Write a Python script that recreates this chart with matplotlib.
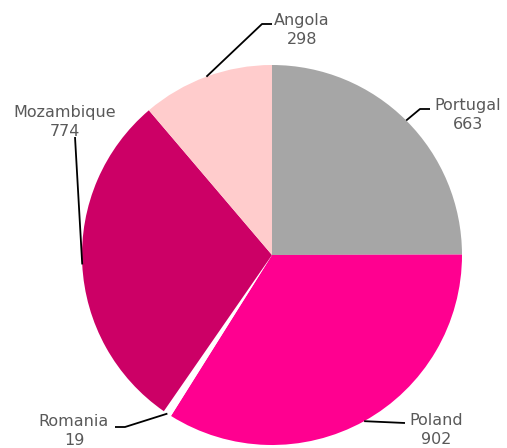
import matplotlib
matplotlib.use("Agg")
import matplotlib.pyplot as plt
import numpy as np

countries = ["Portugal", "Poland", "Romania", "Mozambique", "Angola"]
values = [663, 902, 19, 774, 298]
colors = ["#A6A6A6", "#FF0090", "#FFFFFF", "#CC0066", "#FFCCCC"]

W, H = 507, 448
cx, cy, r = 272, H - 255, 190

# label placement in image pixels: text centre, then leader points after the slice edge
label_pos = {
    "Portugal":   ((468, 115), [(420, 109), (430, 109)]),
    "Poland":     ((436, 430), [(405, 423)]),
    "Romania":    ((74, 431), [(125, 427), (115, 427)]),
    "Mozambique": ((65, 122), [(75, 137)]),
    "Angola":     ((302, 30), [(262, 24), (272, 24)]),
}

fig = plt.figure(figsize=(W / 100, H / 100), dpi=100)
ax = fig.add_axes([0, 0, 1, 1])
wedges, _ = ax.pie(values, colors=colors, startangle=90, counterclock=False,
                   center=(cx, cy), radius=r, frame=True,
                   wedgeprops={"linewidth": 0})
ax.set_xlim(0, W)
ax.set_ylim(0, H)
ax.set_aspect("equal")
ax.axis("off")

for w, name, val in zip(wedges, countries, values):
    mid = np.deg2rad((w.theta1 + w.theta2) / 2)
    start = (cx + r * np.cos(mid), cy + r * np.sin(mid))
    (tx, ty), pts = label_pos[name]
    xs = [start[0]] + [p[0] for p in pts]
    ys = [start[1]] + [H - p[1] for p in pts]
    ax.plot(xs, ys, color="black", lw=1.3, solid_capstyle="butt")
    ax.text(tx, H - ty, f"{name}\n{val}", ha="center", va="center",
            fontsize=11.5, color="#595959", linespacing=1.3)

fig.savefig("out.png", dpi=100)
